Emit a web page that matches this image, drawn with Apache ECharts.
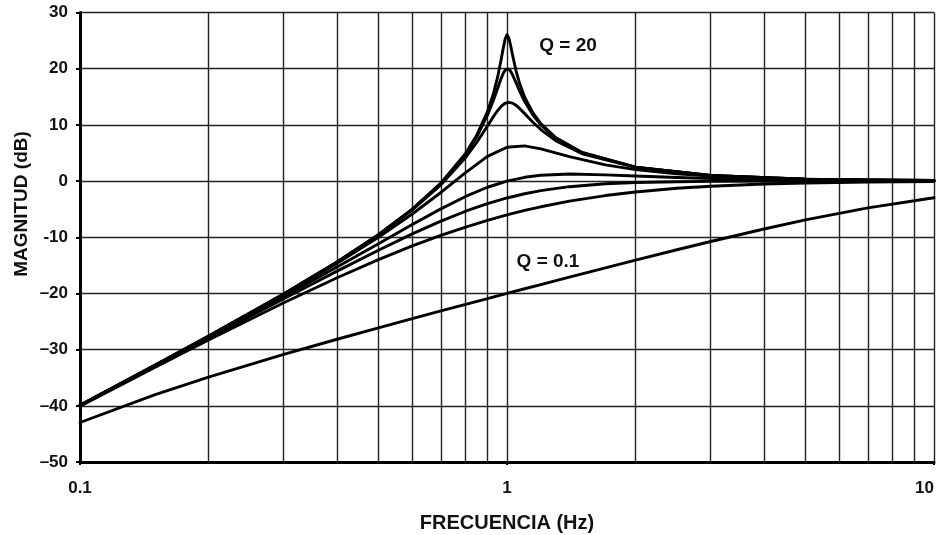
<!DOCTYPE html>
<html>
<head>
<meta charset="utf-8">
<script src="https://cdn.jsdelivr.net/npm/echarts@6/dist/echarts.min.js"></script>
<style>
html,body{margin:0;padding:0;background:#fff;}
#chart{width:938px;height:535px;}
</style>
</head>
<body>
<div id="chart"></div>
<script>
// Frequencies (Hz) for the high-Q curves (dense near resonance)
var freqHigh = [0.1, 0.15, 0.2, 0.3, 0.4, 0.5, 0.6, 0.7, 0.8, 0.85, 0.9, 0.93, 0.95, 0.97, 0.98, 0.99, 1.0, 1.01, 1.02, 1.03, 1.05, 1.07, 1.1, 1.15, 1.2, 1.3, 1.5, 2, 3, 5, 7, 10];
// Frequencies (Hz) for the low-Q curves
var freqLow = [0.1, 0.15, 0.2, 0.3, 0.4, 0.5, 0.6, 0.7, 0.8, 0.9, 1.0, 1.1, 1.2, 1.4, 1.7, 2, 2.5, 3, 4, 5, 7, 10];

// Magnitude (dB)
var magQ20 = [-39.91, -32.76, -27.60, -20.10, -14.41, -9.55, -5.00, -0.37, 4.94, 8.21, 12.36, 15.64, 18.40, 21.80, 23.66, 25.28, 26.02, 25.47, 24.08, 22.48, 19.62, 17.40, 14.92, 12.12, 10.22, 7.74, 5.09, 2.49, 1.02, 0.35, 0.18, 0.09];
var magQ10 = [-39.91, -32.76, -27.61, -20.11, -14.42, -9.56, -5.03, -0.43, 4.78, 7.93, 11.72, 14.44, 16.43, 18.37, 19.17, 19.74, 20.00, 19.92, 19.54, 18.95, 17.52, 16.06, 14.16, 11.74, 9.99, 7.63, 5.04, 2.48, 1.02, 0.35, 0.18, 0.09];
var magQ5  = [-39.91, -32.77, -27.61, -20.12, -14.45, -9.62, -5.14, -0.67, 4.21, 6.93, 9.81, 11.51, 12.52, 13.33, 13.63, 13.85, 13.98, 14.02, 13.98, 13.87, 13.48, 12.93, 12.00, 10.47, 9.17, 7.20, 4.86, 2.42, 1.00, 0.35, 0.18, 0.09];
var magQ2   = [-39.92, -32.79, -27.65, -20.22, -14.65, -10.00, -5.86, -2.03, 1.50, 4.39, 6.02, 6.26, 5.74, 4.35, 2.89, 2.04, 1.28, 0.87, 0.48, 0.31, 0.16, 0.08];
var magQ1   = [-39.96, -32.86, -27.79, -20.55, -15.29, -11.14, -7.74, -4.95, -2.74, -1.10, 0.00, 0.67, 1.04, 1.25, 1.11, 0.90, 0.63, 0.45, 0.26, 0.17, 0.09, 0.04];
var magQ07  = [-40.00, -32.96, -27.97, -20.95, -16.03, -12.30, -9.40, -7.13, -5.37, -4.02, -3.01, -2.26, -1.71, -1.00, -0.49, -0.26, -0.11, -0.05, -0.02, -0.01, 0.00, 0.00];
var magQ05  = [-40.09, -33.15, -28.30, -21.67, -17.21, -13.98, -11.54, -9.66, -8.18, -6.98, -6.02, -5.23, -4.58, -3.58, -2.58, -1.94, -1.29, -0.92, -0.53, -0.34, -0.18, -0.09];
var magQ01  = [-42.97, -38.02, -34.88, -30.84, -28.15, -26.12, -24.48, -23.12, -21.95, -20.92, -20.00, -19.17, -18.42, -17.10, -15.44, -14.08, -12.23, -10.76, -8.53, -6.92, -4.77, -2.97];

// Axis ticks
var xMinorGrid = [0.2, 0.3, 0.4, 0.5, 0.6, 0.7, 0.8, 0.9, 2, 3, 4, 5, 6, 7, 8, 9];
var yTickValues = [-50, -40, -30, -20, -10, 0, 10, 20, 30];
var yTickLabels = ['\u201350', '\u201340', '\u201330', '\u201320', '-10', '0', '10', '20', '30'];

function pairs(xs, ys) { return xs.map(function (x, i) { return [x, ys[i]]; }); }

var FONT = '"Liberation Sans", Arial, sans-serif';
var lineStyle = { color: '#000', width: 2.9, join: 'round', cap: 'round' };
var gridStyle = { color: '#222', width: 1.4, type: 'solid' };

function mk(name, xs, ys, extra) {
  var s = {
    name: name, type: 'line', data: pairs(xs, ys),
    showSymbol: false, symbol: 'none', smooth: false,
    lineStyle: lineStyle, silent: true, animation: false, z: 5
  };
  if (extra) for (var k in extra) s[k] = extra[k];
  return s;
}

var chart = echarts.init(document.getElementById('chart'), null, { renderer: 'canvas' });
chart.setOption({
  animation: false,
  backgroundColor: '#fff',
  grid: { left: 80, right: 4, top: 12.5, bottom: 73, containLabel: false, outerBoundsMode: 'none' },
  xAxis: {
    type: 'log', logBase: 10, min: 0.1, max: 10,
    name: 'FRECUENCIA (Hz)', nameLocation: 'middle', nameGap: 51,
    nameTextStyle: { fontFamily: FONT, fontWeight: 'bold', fontSize: 20, color: '#111' },
    axisLine: { show: true, onZero: false, lineStyle: { color: '#000', width: 3 } },
    axisTick: { show: true, length: 3, lineStyle: { color: '#000', width: 2 } },
    axisLabel: {
      fontFamily: FONT, fontWeight: 'bold', fontSize: 17, color: '#111', margin: 18,
      alignMaxLabel: 'right',
      formatter: function (v) { return String(v); }
    },
    splitLine: { show: true, lineStyle: gridStyle },
    minorTick: { show: false }, minorSplitLine: { show: false }
  },
  yAxis: {
    type: 'value', min: -50, max: 30, interval: 10,
    axisLine: { show: true, lineStyle: { color: '#000', width: 3 } },
    axisTick: { show: true, length: 4, lineStyle: { color: '#000', width: 2 } },
    axisLabel: {
      fontFamily: FONT, fontWeight: 'bold', fontSize: 17, color: '#111', margin: 12,
      formatter: function (v) { var i = yTickValues.indexOf(v); return i >= 0 ? yTickLabels[i] : String(v); }
    },
    splitLine: { show: true, lineStyle: gridStyle }
  },
  series: [
    mk('Q=0.1', freqLow, magQ01, {
      markLine: {
        silent: true, symbol: 'none', animation: false, z: 1,
        label: { show: false },
        lineStyle: gridStyle,
        data: xMinorGrid.map(function (v) { return { xAxis: v }; })
      }
    }),
    mk('Q=0.5', freqLow, magQ05),
    mk('Q=0.707', freqLow, magQ07),
    mk('Q=1', freqLow, magQ1),
    mk('Q=2', freqLow, magQ2),
    mk('Q=5', freqHigh, magQ5),
    mk('Q=10', freqHigh, magQ10),
    mk('Q=20', freqHigh, magQ20)
  ],
  graphic: [
    { type: 'text', x: 22, y: 204, rotation: Math.PI / 2,
      style: { text: 'MAGNITUD (dB)', fontFamily: FONT, fontWeight: 'bold', fontSize: 19, fill: '#111', textAlign: 'center', textVerticalAlign: 'middle' } },
    { type: 'text', x: 568, y: 46,
      style: { text: 'Q = 20', fontFamily: FONT, fontWeight: 'bold', fontSize: 19, fill: '#111', textAlign: 'center', textVerticalAlign: 'middle' } },
    { type: 'text', x: 548, y: 262,
      style: { text: 'Q = 0.1', fontFamily: FONT, fontWeight: 'bold', fontSize: 19, fill: '#111', textAlign: 'center', textVerticalAlign: 'middle' } }
  ]
});
</script>
</body>
</html>
